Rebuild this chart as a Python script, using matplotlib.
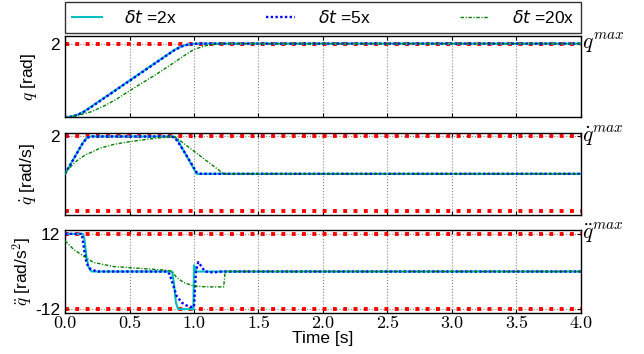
import matplotlib
matplotlib.use('Agg')
import matplotlib.pyplot as plt

# limits
q_max = 2.0
qd_max = 2.0
qdd_max = 12.0

# --- position q [rad] ---
t_q_2x = [0, 0.05, 0.1, 0.15, 0.2, 0.3, 0.4, 0.5, 0.6, 0.7, 0.8, 0.85, 0.9, 0.95, 1.0, 1.05, 4.0]
q_2x = [0.33, 0.345, 0.39, 0.465, 0.563, 0.763, 0.963, 1.163, 1.363, 1.563, 1.763, 1.86, 1.937, 1.981, 1.997, 2.0, 2.0]
t_q_5x = [0, 0.05, 0.1, 0.15, 0.2, 0.3, 0.4, 0.5, 0.6, 0.7, 0.8, 0.85, 0.9, 0.95, 1.0, 1.05, 4.0]
q_5x = [0.33, 0.343, 0.385, 0.458, 0.555, 0.755, 0.955, 1.155, 1.355, 1.555, 1.755, 1.853, 1.93, 1.976, 1.995, 2.0, 2.0]
t_q_20x = [0, 0.05, 0.1, 0.2, 0.3, 0.4, 0.5, 0.6, 0.7, 0.8, 0.9, 1.0, 1.1, 1.2, 1.25, 4.0]
q_20x = [0.33, 0.34, 0.37, 0.45, 0.58, 0.74, 0.93, 1.11, 1.29, 1.48, 1.68, 1.87, 1.96, 1.995, 2.0, 2.0]

# --- velocity qdot [rad/s] ---
t_qd_2x = [0, 0.14, 0.17, 0.2, 0.84, 0.87, 1.0, 1.02, 4.0]
qd_2x = [0, 1.68, 1.95, 2.0, 2.0, 1.85, 0.25, 0.0, 0.0]
t_qd_5x = [0, 0.13, 0.17, 0.21, 0.82, 0.85, 0.9, 0.98, 1.02, 1.05, 4.0]
qd_5x = [0, 1.56, 1.93, 2.0, 2.0, 1.95, 1.45, 0.55, 0.08, 0.0, 0.0]
t_qd_20x = [0, 0.03, 0.09, 0.15, 0.27, 0.38, 0.5, 0.66, 0.81, 0.85, 1.23, 4.0]
qd_20x = [0, 0.28, 0.69, 0.98, 1.37, 1.58, 1.72, 1.87, 1.99, 2.0, 0.0, 0.0]

# --- acceleration qddot [rad/s^2] ---
t_qdd_2x = [0, 0.14, 0.15, 0.165, 0.18, 0.195, 0.21, 0.83, 0.845, 0.86, 0.875, 0.89, 0.995, 1.0, 1.01, 1.02, 4.0]
qdd_2x = [12, 12, 10.5, 5, 1.8, 0.4, 0, 0, -4, -10, -11.8, -12, -12, 2.0, 1.0, 0, 0]
t_qdd_5x = [0, 0.13, 0.15, 0.168, 0.194, 0.245, 0.79, 0.81, 0.84, 0.865, 0.905, 0.94, 0.98, 1.0, 1.015, 1.033, 1.06, 1.085, 1.15, 1.215, 4.0]
qdd_5x = [12, 12, 6.5, 2.5, 0.9, 0, 0, -0.8, -4.5, -7.8, -9.9, -10.8, -11.3, -11.3, 0, 3.0, 1.5, 0, -0.3, 0, 0]
t_qdd_20x = [0, 0.065, 0.14, 0.22, 0.375, 0.58, 0.79, 0.83, 0.865, 0.92, 0.995, 1.1, 1.23, 1.24, 1.25, 4.0]
qdd_20x = [9.8, 7.1, 5.0, 2.9, 1.6, 1.0, 0.4, 0.0, -1.9, -3.5, -4.6, -4.9, -4.9, -0.8, 0, 0]

labels = [r'$\delta t$ =2x', r'$\delta t$ =5x', r'$\delta t$ =20x']
styles = [dict(color='c', ls='-', lw=1.5),
          dict(color='b', ls=(0, (1, 1)), lw=1.7),
          dict(color='g', ls=(0, (2.5, 1.2, 0.8, 1.2)), lw=1.0)]

sans = 'Liberation Sans'
plt.rcParams['font.family'] = sans
plt.rcParams['mathtext.fontset'] = 'dejavusans'

fig = plt.figure(figsize=(6.44, 3.54), dpi=100)
ax1 = fig.add_axes([0.101, 0.669, 0.801, 0.229])
ax2 = fig.add_axes([0.101, 0.393, 0.801, 0.232], sharex=ax1)
ax3 = fig.add_axes([0.101, 0.116, 0.801, 0.234], sharex=ax1)

series = [
    (ax1, [(t_q_2x, q_2x), (t_q_5x, q_5x), (t_q_20x, q_20x)], [q_max], (0.33, 2.17)),
    (ax2, [(t_qd_2x, qd_2x), (t_qd_5x, qd_5x), (t_qd_20x, qd_20x)], [qd_max, -qd_max], (-2.2, 2.2)),
    (ax3, [(t_qdd_2x, qdd_2x), (t_qdd_5x, qdd_5x), (t_qdd_20x, qdd_20x)], [qdd_max, -qdd_max], (-13.2, 13.2)),
]

handles = []
for ax, data, lims, yl in series:
    for lv in lims:
        ax.axhline(lv, color='r', ls=':', lw=2.8, zorder=2)
    hs = []
    for (tt, yy), st, lab in zip(data, styles, labels):
        h, = ax.plot(tt, yy, label=lab, zorder=3, **st)
        hs.append(h)
    if not handles:
        handles = hs
    ax.set_ylim(*yl)
    ax.set_xlim(0, 4)
    ax.grid(True, color='#888888', ls=':', lw=0.8)
    ax.tick_params(direction='in', top=True, right=True, length=3)
    for s in ax.spines.values():
        s.set_linewidth(1.0)

ax1.set_yticks([2])
ax1.set_yticklabels(['2'], fontsize=12.5)
ax2.set_yticks([2])
ax2.set_yticklabels(['2'], fontsize=12.5)
ax3.set_yticks([-12, 12])
ax3.set_yticklabels(['-12', '12'], fontsize=12.5)
ax3.get_yticklabels()[0].set_va('center_baseline')

xt = [0, 0.5, 1.0, 1.5, 2.0, 2.5, 3.0, 3.5, 4.0]
ax3.set_xticks(xt)
ax3.set_xticklabels(['%.1f' % v for v in xt], fontsize=13, family='cmr10')
ax3.tick_params(axis='x', pad=2)
plt.setp(ax1.get_xticklabels(), visible=False)
plt.setp(ax2.get_xticklabels(), visible=False)

ax1.set_ylabel(r'$q$ [rad]', fontsize=12.5, labelpad=8, math_fontfamily='cm')
ax2.set_ylabel(r'$\dot{q}$ [rad/s]', fontsize=12.5, labelpad=8, math_fontfamily='cm')
ax3.set_ylabel(r'$\ddot{q}$ [rad/s$^2$]', fontsize=12.5, labelpad=0, math_fontfamily='cm')
ax3.set_xlabel('Time [s]', fontsize=12.5, labelpad=0)

for ax, yv, txt in [(ax1, q_max, r'$q^{max}$'), (ax2, qd_max, r'$\dot{q}^{max}$'), (ax3, qdd_max, r'$\ddot{q}^{max}$')]:
    ax.text(1.003, yv, txt, transform=ax.get_yaxis_transform(), fontsize=15.5,
            va='center', ha='left', math_fontfamily='cm')

leg = fig.legend(handles=handles, labels=labels, loc='lower left',
                 bbox_to_anchor=(0.101, 0.907, 0.801, 0.087), mode='expand',
                 ncol=3, borderaxespad=0, fancybox=False, fontsize=12.5,
                 handlelength=1.7, handletextpad=1.3)
leg.get_frame().set_edgecolor('black')
leg.get_frame().set_linewidth(1.0)

fig.savefig('out.png', dpi=100)
